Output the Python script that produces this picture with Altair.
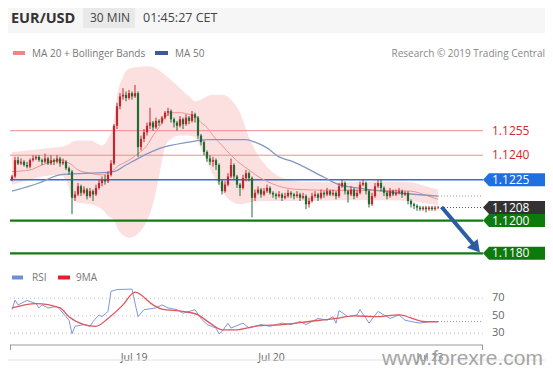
import altair as alt
import pandas as pd

# ---------------- data (prices in pips above 1.1200) ----------------
BASE_PRICE = 1.1200
PIP = 0.0001

first_open_pips = 25
close_pips = [27, 37, 35, 36, 34, 33, 37, 38, 39, 37,
              36, 38, 35, 37, 36, 38, 35, 36, 32, 30,
              14, 16, 21, 17, 19, 15, 18, 16, 20, 23,
              25, 24, 28, 35, 58, 70, 76, 77, 75, 78,
              76, 78, 45, 50, 54, 58, 60, 57, 61, 60,
              63, 66, 67, 62, 60, 58, 62, 59, 63, 61,
              65, 63, 52, 48, 42, 38, 36, 37, 34, 24,
              18, 22, 27, 34, 27, 22, 20, 26, 29, 26,
              14, 17, 19, 16, 18, 20, 17, 16, 15, 16,
              14, 15, 17, 16, 15, 16, 14, 15, 10, 12,
              15, 16, 14, 17, 16, 18, 16, 17, 15, 21,
              23, 18, 16, 19, 15, 17, 22, 23, 18, 10,
              15, 21, 23, 20, 17, 15, 18, 16, 17, 18,
              16, 17, 12, 10, 9, 8, 7, 8, 7, 8,
              7, 8, 8]
high_pips = [28, 39, 39, 38, 37, 36, 38, 40, 40, 40,
             38, 41, 39, 40, 38, 40, 39, 38, 37, 33,
             31, 18, 23, 22, 21, 20, 20, 19, 22, 25,
             27, 28, 30, 37, 59, 72, 78, 81, 79, 80,
             79, 83, 79, 52, 56, 60, 69, 61, 63, 62,
             64, 67, 69, 68, 63, 61, 64, 63, 65, 64,
             67, 66, 64, 53, 49, 43, 40, 39, 38, 35,
             25, 24, 29, 38, 35, 28, 23, 28, 31, 30,
             27, 19, 21, 20, 20, 22, 21, 18, 17, 18,
             17, 17, 19, 18, 17, 18, 17, 17, 16, 14,
             17, 18, 17, 19, 18, 20, 19, 19, 18, 23,
             25, 24, 19, 21, 20, 19, 24, 25, 24, 19,
             17, 23, 25, 25, 21, 18, 20, 19, 19, 20,
             19, 18, 18, 13, 11, 10, 9, 9, 9, 9,
             9, 9, 9]
low_pips = [24, 26, 34, 34, 33, 32, 32, 36, 37, 36,
            34, 35, 34, 34, 34, 35, 33, 34, 31, 28,
            4, 12, 15, 15, 16, 13, 14, 12, 15, 19,
            21, 22, 23, 27, 34, 56, 68, 74, 73, 74,
            74, 75, 39, 43, 48, 52, 56, 55, 56, 58,
            59, 62, 64, 60, 57, 55, 57, 56, 58, 59,
            60, 60, 50, 46, 40, 36, 34, 33, 31, 22,
            16, 17, 21, 26, 25, 20, 15, 19, 24, 24,
            2, 12, 16, 14, 15, 17, 16, 14, 13, 14,
            12, 13, 14, 14, 13, 14, 12, 13, 7, 8,
            11, 14, 12, 13, 14, 15, 15, 15, 13, 14,
            20, 16, 11, 15, 13, 14, 16, 21, 16, 8,
            9, 14, 20, 18, 15, 13, 14, 15, 15, 16,
            14, 15, 10, 8, 7, 6, 6, 6, 5, 6,
            6, 6, 7]

band_idx = [0, 6, 10, 16, 18, 20, 22, 26, 30, 32,
            34, 35, 37, 39, 42, 45, 47, 49, 51, 53,
            56, 59, 61, 63, 65, 67, 70, 73, 76, 79,
            82, 85, 89, 96, 109, 123, 133, 138, 142]
band_upper_pips = [42, 43, 44, 45, 46, 48, 49, 49, 46, 50,
                   62, 76, 88, 93, 94, 94.5, 94, 92, 89, 86,
                   81, 76, 73, 74, 76, 77, 77, 74, 66, 51,
                   40, 33, 27, 24, 23.5, 24, 23.5, 21, 19]
band_lower_pips = [22, 25, 27, 28, 25, 14, 11, 10, 7, 3,
                   0, -4, -9, -10.5, -8, 0, 10, 27, 45, 50,
                   52, 52, 51, 44, 36, 28, 18, 12, 10, 11,
                   12, 12, 12, 12, 12.5, 12.5, 12, 10.5, 9.5]
ma20_pips = [30, 31, 34, 37, 36, 34, 31, 29, 28, 29,
             31, 33, 35, 37, 41, 46, 52, 57, 63, 66,
             66, 65, 64, 60, 57, 52, 46, 40, 35, 31,
             27, 24, 21, 19, 18.5, 18.5, 18, 15.5, 13]
ma50_idx = [0, 9, 16, 26, 34, 38, 43, 49, 59, 65, 78, 81, 85, 89, 93, 104, 109, 115, 126, 142]
ma50_pips = [18, 23, 28, 29, 30, 34, 39, 44, 48, 49.5, 49.5, 48, 44.5, 39, 36.5, 26.5, 22, 20, 17.5, 15]

rsi_idx = [0, 1, 2, 5, 8, 9, 10, 12, 15, 16,
           18, 19, 20, 21, 24, 26, 27, 29, 30, 32,
           33, 35, 40, 42, 44, 48, 50, 52, 55, 57,
           59, 61, 63, 65, 68, 69, 70, 72, 73, 77,
           79, 83, 86, 90, 93, 96, 98, 102, 105, 107,
           108, 109, 112, 115, 116, 118, 119, 122, 124, 126,
           129, 131, 133, 136, 139, 142]
rsi_vals = [57, 68, 62.5, 67.5, 64, 59, 62.5, 59, 60.6, 57,
            49, 45, 29.5, 38, 40, 38, 43.5, 51, 49, 55,
            78, 80, 80.5, 49, 57, 59, 62.5, 59, 57, 53,
            55, 57, 47, 40, 36, 29.5, 32, 41.6, 36, 41.6,
            36, 40, 38, 41.6, 40, 43.5, 40, 47, 45, 49,
            41.6, 56, 49, 51, 57, 47, 41.6, 55, 51, 47,
            51, 45, 43.5, 41.6, 43.5, 43.5]
rsi_ma_idx = [0, 8, 16, 19, 24, 28, 32, 37, 41, 47, 50, 57, 62, 66, 70, 75, 81, 90, 99, 108, 114, 121, 129, 137, 142]
rsi_ma_vals = [59, 64, 59, 49, 40, 38, 47, 62.5, 77, 62.5, 57.6, 55, 51, 41.6, 34, 34, 38, 40, 43.5, 47, 50, 49, 51, 43.5, 43]
rsi_levels = [70, 50, 30]

levels = [1.1255, 1.1240, 1.1225, 1.1208, 1.1200, 1.1180]
level_labels = ["1.1255", "1.1240", "1.1225", "1.1208", "1.1200", "1.1180"]

day_pos = [40.7, 86.5, 139.3]
day_labels = ["Jul 19", "Jul 20", "Jul 23"]

arrow_idx = [143.2, 153.9]
arrow_price = [1.12083, 1.11852]
arrow_head_idx = [154.7]
arrow_head_price = [1.11833]

# ---------------- frames ----------------
def to_price(v):
    return round(BASE_PRICE + v * PIP, 6)

n = len(close_pips)
opens = [first_open_pips] + close_pips[:-1]
candles = pd.DataFrame({
    "i": list(range(n)),
    "open": [to_price(v) for v in opens],
    "close": [to_price(v) for v in close_pips],
    "high": [to_price(v) for v in high_pips],
    "low": [to_price(v) for v in low_pips],
})
bands = pd.DataFrame({
    "i": band_idx,
    "upper": [to_price(v) for v in band_upper_pips],
    "lower": [to_price(v) for v in band_lower_pips],
    "ma20": [to_price(v) for v in ma20_pips],
})
ma50 = pd.DataFrame({"i": ma50_idx, "v": [to_price(v) for v in ma50_pips]})
rsi = pd.DataFrame({"i": rsi_idx, "v": rsi_vals})
rsi_ma = pd.DataFrame({"i": rsi_ma_idx, "v": rsi_ma_vals})
one = pd.DataFrame({"a": [0]})

X_DOMAIN = [-0.667, 157.0]
X_LAST = n - 1

def XS():
    return alt.Scale(domain=X_DOMAIN, range=[2, 475], nice=False, zero=False)

def PY():
    return alt.Scale(domain=[1.1180, 1.1255], range=[245.3, 122.7], nice=False, zero=False)

def RY():
    return alt.Scale(domain=[30, 70], range=[325.3, 290.3], nice=False, zero=False)

FONT = "Open Sans"
RED_C = "#c0282d"
GREEN_C = "#1e6b34"

layers = []

# header
layers.append(alt.Chart(one).mark_rect(color="#f6f6f6").encode(
    x=alt.value(0), x2=alt.value(537), y=alt.value(0), y2=alt.value(25)))
layers.append(alt.Chart(one).mark_rect(color="#e9e9e9").encode(
    x=alt.value(75), x2=alt.value(127), y=alt.value(0), y2=alt.value(20)))

def txt(s, x, y, size=10, color="#777777", weight="normal", align="left",
        font=FONT, baseline="alphabetic", opacity=1.0):
    return alt.Chart(one).mark_text(
        text=s, fontSize=size, color=color, fontWeight=weight, align=align,
        baseline=baseline, font=font, opacity=opacity
    ).encode(x=alt.value(x), y=alt.value(y))

def swatch(x0, x1, y, color, w=4):
    return alt.Chart(one).mark_rule(color=color, strokeWidth=w).encode(
        x=alt.value(x0), x2=alt.value(x1), y=alt.value(y))

layers.append(txt("EUR/USD", 3, 15, size=14.5, color="#333333", weight="bold"))
layers.append(txt("30 MIN", 82, 14, size=12, color="#444444"))
layers.append(txt("01:45:27 CET", 135, 14, size=12.5, color="#444444"))

# legend row
layers.append(swatch(5, 17, 45, "#f08585"))
layers.append(txt("MA 20 + Bollinger Bands", 24, 49, size=10))
layers.append(swatch(147, 160, 45, "#3d5a99"))
layers.append(txt("MA 50", 167, 49, size=10))
layers.append(txt("Research \u00a9 2019 Trading Central", 537, 49, size=10,
                  color="#888888", align="right"))

# Bollinger band
layers.append(alt.Chart(bands).mark_area(color="#fce0e0", interpolate="monotone").encode(
    x=alt.X("i:Q", scale=XS(), axis=None),
    y=alt.Y("upper:Q", scale=PY(), axis=None),
    y2="lower:Q"))

# level lines
line_styles = {
    "1.1255": ("#f28b8b", 1.0),
    "1.1240": ("#f28b8b", 1.0),
    "1.1225": ("#2f6fd6", 1.3),
    "1.1200": ("#157a15", 2.2),
    "1.1180": ("#157a15", 2.2),
}
for lv, lab in zip(levels, level_labels):
    if lab not in line_styles:
        continue
    col, w = line_styles[lab]
    layers.append(alt.Chart(pd.DataFrame({"level": [lv]})).mark_rule(
        color=col, strokeWidth=w).encode(
        y=alt.Y("level:Q", scale=PY(), axis=None),
        x=alt.value(2), x2=alt.value(475)))

# moving averages
layers.append(alt.Chart(bands).mark_line(color="#f09494", strokeWidth=1,
                                         interpolate="monotone").encode(
    x=alt.X("i:Q", scale=XS(), axis=None),
    y=alt.Y("ma20:Q", scale=PY(), axis=None)))
layers.append(alt.Chart(ma50).mark_line(color="#8596c2", strokeWidth=1.3,
                                        interpolate="monotone").encode(
    x=alt.X("i:Q", scale=XS(), axis=None),
    y=alt.Y("v:Q", scale=PY(), axis=None)))

# dotted extensions (current price and MA50)
ext = pd.DataFrame({
    "x0": [X_LAST, X_LAST],
    "x1": [X_DOMAIN[1], X_DOMAIN[1]],
    "y": [to_price(close_pips[-1]), to_price(ma50_pips[-1])],
    "k": ["price", "ma"],
})
layers.append(alt.Chart(ext).mark_rule(strokeDash=[1, 2], strokeWidth=1).encode(
    x=alt.X("x0:Q", scale=XS(), axis=None), x2="x1:Q",
    y=alt.Y("y:Q", scale=PY(), axis=None),
    color=alt.Color("k:N", scale=alt.Scale(domain=["price", "ma"],
                                           range=["#555555", "#9a9a9a"]), legend=None)))

# candles
cond = alt.condition("datum.close >= datum.open", alt.value(RED_C), alt.value(GREEN_C))
layers.append(alt.Chart(candles).mark_rule(strokeWidth=1).encode(
    x=alt.X("i:Q", scale=XS(), axis=None),
    y=alt.Y("low:Q", scale=PY(), axis=None), y2="high:Q", color=cond))
layers.append(alt.Chart(candles).mark_rule(strokeWidth=2.2).encode(
    x=alt.X("i:Q", scale=XS(), axis=None),
    y=alt.Y("open:Q", scale=PY(), axis=None), y2="close:Q", color=cond))

# arrow
ARROW_C = "#2b5da3"
layers.append(alt.Chart(pd.DataFrame({"i": arrow_idx, "p": arrow_price})).mark_line(
    color=ARROW_C, strokeWidth=4).encode(
    x=alt.X("i:Q", scale=XS(), axis=None),
    y=alt.Y("p:Q", scale=PY(), axis=None)))
layers.append(alt.Chart(pd.DataFrame({"i": arrow_head_idx, "p": arrow_head_price})).mark_point(
    shape="triangle-up", filled=True, size=190, angle=140, color=ARROW_C, opacity=1).encode(
    x=alt.X("i:Q", scale=XS(), axis=None),
    y=alt.Y("p:Q", scale=PY(), axis=None)))

# level tags
TAG = "M-1,0 L-0.806,-0.21 L1,-0.21 L1,0.21 L-0.806,0.21 Z"
tag_fill = {"1.1225": "#1f6fe0", "1.1208": "#333333", "1.1200": "#0d7a0d", "1.1180": "#0d7a0d"}
for lv, lab in zip(levels, level_labels):
    d = pd.DataFrame({"level": [lv], "label": [lab]})
    if lab in tag_fill:
        layers.append(alt.Chart(d).mark_point(
            shape=TAG, size=3844, filled=True, color=tag_fill[lab], opacity=1,
            strokeWidth=0).encode(
            x=alt.value(506), y=alt.Y("level:Q", scale=PY(), axis=None)))
        tcol = "#ffffff"
    else:
        tcol = "#d8272d"
    layers.append(alt.Chart(d).mark_text(
        align="left", baseline="middle", color=tcol, fontSize=12, font=FONT).encode(
        x=alt.value(484), y=alt.Y("level:Q", scale=PY(), axis=None), text="label:N"))

# ---------------- RSI panel ----------------
layers.append(swatch(4, 15, 269.5, "#6f8fdc"))
layers.append(txt("RSI", 24, 273, size=10))
layers.append(swatch(50, 62, 269.5, "#e0202c"))
layers.append(txt("9MA", 68, 273, size=10))

layers.append(alt.Chart(pd.DataFrame({"r": rsi_levels})).mark_rule(
    color="#c4c4c4", strokeDash=[1, 3], strokeWidth=1).encode(
    y=alt.Y("r:Q", scale=RY(), axis=None), x=alt.value(2), x2=alt.value(475)))
layers.append(alt.Chart(pd.DataFrame({"r": rsi_levels})).mark_text(
    align="left", baseline="middle", color="#666666", fontSize=11, font=FONT).encode(
    y=alt.Y("r:Q", scale=RY(), axis=None), x=alt.value(484), text="r:Q"))

layers.append(alt.Chart(rsi).mark_line(color="#7f98de", strokeWidth=1).encode(
    x=alt.X("i:Q", scale=XS(), axis=None),
    y=alt.Y("v:Q", scale=RY(), axis=None)))
layers.append(alt.Chart(rsi_ma).mark_line(color="#e05560", strokeWidth=1.3,
                                          interpolate="monotone").encode(
    x=alt.X("i:Q", scale=XS(), axis=None),
    y=alt.Y("v:Q", scale=RY(), axis=None)))
layers.append(alt.Chart(pd.DataFrame({"x0": [X_LAST], "x1": [X_DOMAIN[1]],
                                      "y": [rsi_vals[-1]]})).mark_rule(
    color="#9a9a9a", strokeDash=[1, 2]).encode(
    x=alt.X("x0:Q", scale=XS(), axis=None), x2="x1:Q",
    y=alt.Y("y:Q", scale=RY(), axis=None)))

# time axis
layers.append(alt.Chart(one).mark_rule(color="#9a9a9a", strokeWidth=1).encode(
    x=alt.value(2), x2=alt.value(475), y=alt.value(337)))
layers.append(alt.Chart(one).mark_rule(color="#9a9a9a", strokeWidth=1).encode(
    x=alt.value(2.5), y=alt.value(337), y2=alt.value(342)))
layers.append(alt.Chart(one).mark_rule(color="#9a9a9a", strokeWidth=1).encode(
    x=alt.value(474.5), y=alt.value(337), y2=alt.value(342)))
layers.append(alt.Chart(pd.DataFrame({"i": day_pos, "t": day_labels})).mark_text(
    align="center", baseline="alphabetic", color="#666666", fontSize=10.5, font=FONT).encode(
    x=alt.X("i:Q", scale=XS(), axis=None), y=alt.value(353), text="t:N"))

# frame bottom + watermark
layers.append(alt.Chart(one).mark_rule(color="#e2e2e2", strokeWidth=1).encode(
    x=alt.value(0), x2=alt.value(537), y=alt.value(352)))
layers.append(txt("www.forexre.com", 535, 357, size=21, color="#9c9c9c",
                  align="right", font="Liberation Sans", opacity=0.9))

chart = alt.layer(*layers).resolve_scale(
    x="independent", y="independent", color="independent"
).properties(
    width=537, height=359, padding=0, autosize=alt.AutoSizeParams(type="none")
).configure_view(stroke=None)

chart.save("out.html", embed_options={"renderer": "svg", "actions": False})
